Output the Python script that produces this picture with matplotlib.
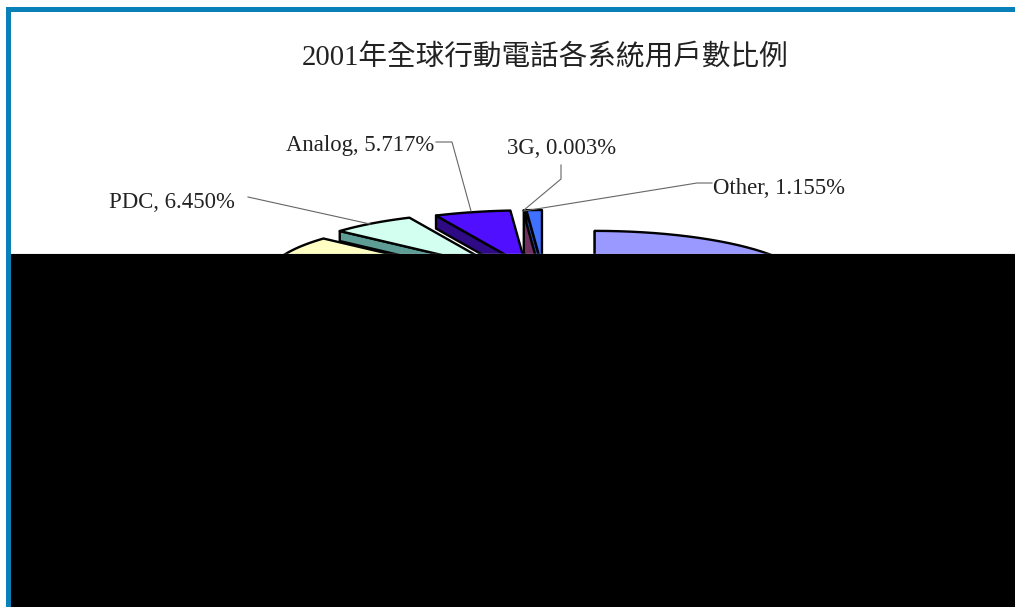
import numpy as np
import matplotlib
matplotlib.use('Agg')
import matplotlib.pyplot as plt
from matplotlib.patches import Polygon, Rectangle

# 用戶數比例 (%), 由 12 點鐘方向順時針排列
systems = ['GSM', 'CDMA', 'PDC', 'Analog', '3G', 'Other']
shares = [70.7, 15.975, 6.450, 5.717, 0.003, 1.155]

top_colors = ['#9999FF', '#FFFFC4', '#D2FFF0', '#5010FF', '#993366', '#4070FF']
wall_colors = ['#5C5C99', '#99997A', '#5E9C96', '#2E0A85', '#703060', '#264399']
wall_depth = [13, 13, 10, 13, 42, 13]

# 橢圓圓餅的幾何設定 (像素)
center_x, center_y = 544.5, 279
radius_x, radius_y = 215, 56
explode_x = [63, 63, 76, 74, 70, 70]
explode_y = 13

# 標籤位置與引導線
label_names = ['PDC', 'Analog', '3G', 'Other']
label_x = [171.5, 360, 562, 779.5]
label_y = [202, 145, 149, 189]
leader_x = [[248, 370], [436, 452, 471], [561, 561, 524], [712, 697, 524]]
leader_y = [[197, 224], [142, 142, 211], [165, 179, 210], [183, 183, 211]]

serif_cjk = ['Liberation Serif', 'Noto Sans CJK TC']


def rim(cx, cy, theta):
    return cx + radius_x * np.sin(theta), cy - radius_y * np.cos(theta)


fig = plt.figure(figsize=(10.15, 6.07), dpi=100)
ax = fig.add_axes([0, 0, 1, 1])
ax.set_xlim(0, 1015)
ax.set_ylim(607, 0)
ax.axis('off')

edges = np.cumsum([0] + shares) / 100 * 2 * np.pi

for i in range(len(systems)):
    start, end = edges[i], edges[i + 1]
    mid = (start + end) / 2
    cx = center_x + explode_x[i] * np.sin(mid)
    cy = center_y - explode_y * np.cos(mid)

    # 切面
    sx, sy = rim(cx, cy, start)
    d = wall_depth[i]
    wall = [(sx, sy), (cx, cy), (cx, cy + d), (sx, sy + d)]
    ax.add_patch(Polygon(wall, closed=True, facecolor=wall_colors[i],
                         edgecolor='black', linewidth=1.7, joinstyle='round', zorder=2 + i))

    # 頂面
    theta = np.linspace(start, end, 80)
    xs, ys = rim(cx, cy, theta)
    top = [(cx, cy)] + list(zip(xs, ys))
    ax.add_patch(Polygon(top, closed=True, facecolor=top_colors[i],
                         edgecolor='black', linewidth=1.7, joinstyle='round', zorder=2 + i))

for name, x, y, lx, ly in zip(label_names, label_x, label_y, leader_x, leader_y):
    value = shares[systems.index(name)]
    ax.text(x, y, f'{name}, {value:.3f}%', family=serif_cjk, fontsize=16.4,
            color='#222222', ha='center', va='center', zorder=20)
    ax.plot(lx, ly, color='#666666', linewidth=0.8, zorder=20)

ax.text(545, 58, '2001年全球行動電話各系統用戶數比例', family=serif_cjk, fontsize=20.6,
        color='#222222', ha='center', va='center', zorder=20)

# 下半部的黑色區塊與藍色外框
ax.add_patch(Rectangle((11, 254), 1004, 353, facecolor='black', edgecolor='none', zorder=30))
ax.add_patch(Rectangle((6, 7), 1009, 5, facecolor='#0A80B8', edgecolor='none', zorder=31))
ax.add_patch(Rectangle((6, 7), 5, 600, facecolor='#0A80B8', edgecolor='none', zorder=31))
ax.plot([11, 1015], [253.5, 253.5], color='#AAAAAA', linewidth=1, zorder=29)

fig.savefig('out.png', dpi=100)
